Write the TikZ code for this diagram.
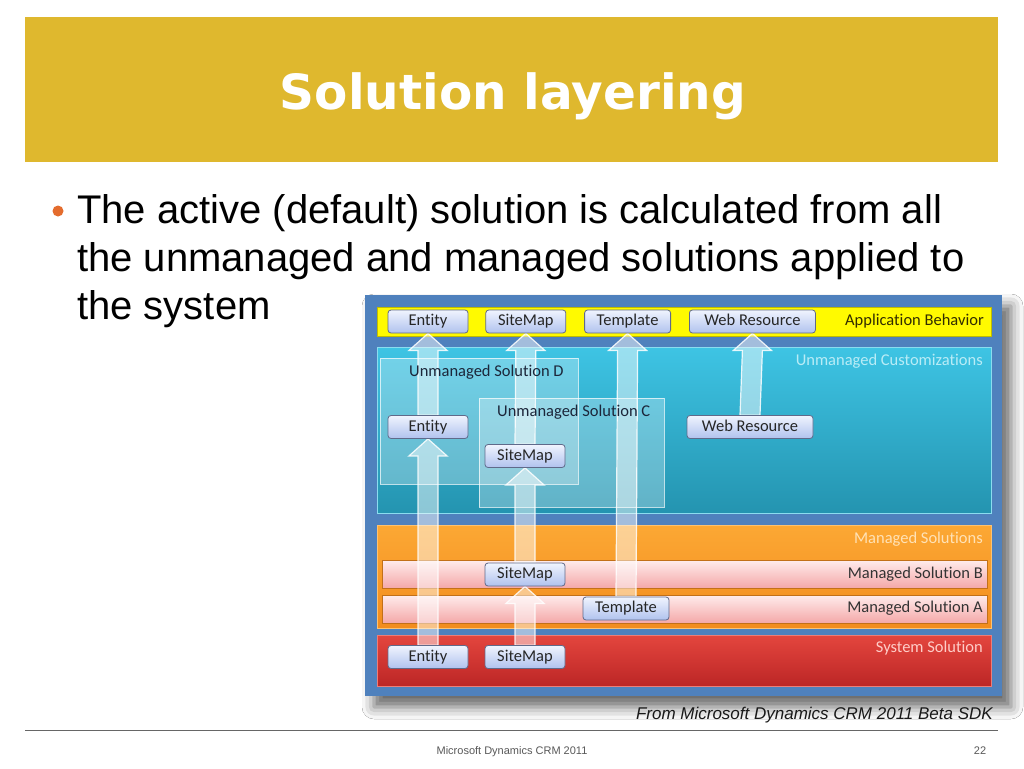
\documentclass[tikz,border=0pt]{standalone}
\usepackage{fontspec}
\setmainfont{Liberation Sans}
\newfontfamily\diagfont[Ligatures=NoCommon]{Carlito}
\newfontfamily\titlefont{DejaVu Sans}
\usetikzlibrary{positioning, calc, shadows.blur}

\definecolor{banner}{RGB}{223,184,46}
\definecolor{bulletc}{RGB}{228,108,45}
\definecolor{frame}{RGB}{79,129,189}
\definecolor{appbar}{RGB}{255,250,0}
\definecolor{unmtop}{RGB}{62,196,228}
\definecolor{unmbot}{RGB}{36,148,176}
\definecolor{mngtop}{RGB}{252,168,52}
\definecolor{mngbot}{RGB}{242,140,30}
\definecolor{pinktop}{RGB}{255,236,236}
\definecolor{pinkbot}{RGB}{244,168,168}
\definecolor{systop}{RGB}{228,70,62}
\definecolor{sysbot}{RGB}{188,38,38}
\definecolor{itemtop}{RGB}{240,244,254}
\definecolor{itembot}{RGB}{176,194,238}
\definecolor{itemedge}{RGB}{96,106,138}

\pgfdeclarelayer{back}
\pgfdeclarelayer{mid}
\pgfsetlayers{back,mid,main}

\tikzstyle{layer} = [rectangle, inner sep=0pt, outer sep=0pt, anchor=north west]
\tikzstyle{solbox} = [layer, fill=white, fill opacity=0.28, draw=white, draw opacity=0.7, line width=0.8pt]
\tikzstyle{item} = [rectangle, draw=itemedge, line width=0.8pt, rounded corners=3pt, top color=itemtop, bottom color=itembot, minimum height=23pt, inner sep=0pt, text height=11.5pt, text depth=3.5pt, text=black!85, font=\diagfont\fontsize{16.5}{18}\selectfont]
\tikzstyle{caption} = [anchor=east, inner sep=0pt, text height=11.5pt, text depth=3.5pt, font=\diagfont\fontsize{16.5}{18}\selectfont]
\tikzstyle{lift} = [draw=white, draw opacity=0.85, fill=white, fill opacity=0.48, line width=1.2pt,
  to path={($(\tikztostart)+(-10,0)$) -- ($(\tikztotarget)+(-10,17)$) -- ($(\tikztotarget)+(-19,17)$)
    -- (\tikztotarget) -- ($(\tikztotarget)+(19,17)$) -- ($(\tikztotarget)+(10,17)$) -- ($(\tikztostart)+(10,0)$) -- cycle}]

\begin{document}
\begin{tikzpicture}[x=1pt, y=-1pt]
    \useasboundingbox (0,0) rectangle (1024,768);

    % Slide title and bullet
    \node (title) [anchor=base, text=white, font=\titlefont\bfseries\fontsize{48.5}{52}\selectfont] at (513,109) {Solution layering};
    \node (dot) [circle, fill=bulletc, minimum size=11pt, inner sep=0pt] at (58,211) {};
    \node (bullet) [anchor=north west, inner sep=0pt, align=left, font=\fontsize{40}{48}\selectfont] at (77,194)
        {The active (default) solution is calculated from all\\the unmanaged and managed solutions applied to\\the system};

    % Layers of the diagram
    \begin{pgfonlayer}{back}
        \fill [white] (0,0) rectangle (1024,768);
        \node (banner) [layer, fill=banner, minimum width=973pt, minimum height=145pt] at (25,17) {};
        \node (frame) [layer, fill=frame, minimum width=637pt, minimum height=401pt,
            blur shadow={shadow xshift=9pt, shadow yshift=-11pt, shadow blur radius=12pt, shadow opacity=60}] at (365,295) {};
        \node (appl) [layer, fill=appbar, draw=appbar!75!black, line width=0.8pt, minimum width=614pt, minimum height=29pt] at (377,307) {};
        \node (unm) [layer, top color=unmtop, bottom color=unmbot, draw=unmtop!60!white, line width=0.8pt, minimum width=614pt, minimum height=166pt] at (377,347) {};
        \node (solD) [solbox, minimum width=198pt, minimum height=126pt] at (380,358) {};
        \node (solC) [solbox, minimum width=185pt, minimum height=109pt] at (479,398) {};
        \node (mng) [layer, top color=mngtop, bottom color=mngbot, draw=mngtop!70!white, line width=0.8pt, minimum width=614pt, minimum height=103pt] at (377,525) {};
        \node (mngB) [layer, top color=pinktop, bottom color=pinkbot, draw=mngbot!80!black, line width=0.6pt, minimum width=605pt, minimum height=28pt] at (382,560) {};
        \node (mngA) [layer, top color=pinktop, bottom color=pinkbot, draw=mngbot!80!black, line width=0.6pt, minimum width=605pt, minimum height=28pt] at (382,595) {};
        \node (sys) [layer, top color=systop, bottom color=sysbot, draw=systop!70!white, line width=0.8pt, minimum width=614pt, minimum height=51pt] at (377,635) {};
    \end{pgfonlayer}

    % Layer captions
    \node (applcap) [caption, text={rgb,255:red,50;green,45;blue,0}] at (984,321) {Application Behavior};
    \node (unmcap) [caption, text={rgb,255:red,185;green,236;blue,246}] at (983,361) {Unmanaged Customizations};
    \node (solDcap) [caption, anchor=west, text={rgb,255:red,28;green,38;blue,58}] at (409,372) {Unmanaged Solution D};
    \node (solCcap) [caption, anchor=west, text={rgb,255:red,28;green,38;blue,58}] at (497,412) {Unmanaged Solution C};
    \node (mngcap) [caption, text={rgb,255:red,255;green,226;blue,182}] at (983,539) {Managed Solutions};
    \node (mngBcap) [caption, text=black!80] at (983,574) {Managed Solution B};
    \node (mngAcap) [caption, text=black!80] at (983,608) {Managed Solution A};
    \node (syscap) [caption, text={rgb,255:red,255;green,205;blue,200}] at (983,648) {System Solution};

    % Components
    \node (entApp) [item, minimum width=80pt] at (428,321.5) {Entity};
    \node (mapApp) [item, minimum width=80pt, right=17pt of entApp] {SiteMap};
    \node (tplApp) [item, minimum width=86pt, right=18pt of mapApp] {Template};
    \node (webApp) [item, minimum width=126pt, right=18pt of tplApp] {Web Resource};
    \node (entD) [item, minimum width=80pt] at (428,427) {Entity};
    \node (mapC) [item, minimum width=80pt] at (525,456) {SiteMap};
    \node (webU) [item, minimum width=126pt] at (750,427) {Web Resource};
    \node (mapB) [item, minimum width=80pt] at (525,574.5) {SiteMap};
    \node (tplA) [item, minimum width=86pt] at (626,608.5) {Template};
    \node (entSys) [item, minimum width=80pt] at (428,657) {Entity};
    \node (mapSys) [item, minimum width=80pt] at (525,657) {SiteMap};

    % Block arrows, behind the components
    \begin{pgfonlayer}{mid}
        \draw [lift] (entSys.north) to (entD.south);
        \draw [lift] (entD.north) to (entApp.south);
        \draw [lift] (mapSys.north) to (mapB.south);
        \draw [lift] (mapB.north) to (mapC.south);
        \draw [lift] (mapC.north) to (mapApp.south);
        \draw [lift] (tplA.north) to (tplApp.south);
        \draw [lift] (webU.north) to (webApp.south);
    \end{pgfonlayer}

    % Source and footer
    \node (source) [anchor=base east, inner sep=0pt, text=black!90, font=\itshape\fontsize{17}{20}\selectfont] at (993,719) {From Microsoft Dynamics CRM 2011 Beta SDK};
    \draw [black!60, line width=1pt] (25,730) -- (998,730);
    \node (foot) [anchor=base, inner sep=0pt, text=black!65, font=\fontsize{11}{13}\selectfont] at (512,754) {Microsoft Dynamics CRM 2011};
    \node (page) [anchor=base, inner sep=0pt, text=black!65, font=\fontsize{11}{13}\selectfont] at (980,754) {22};
\end{tikzpicture}
\end{document}
